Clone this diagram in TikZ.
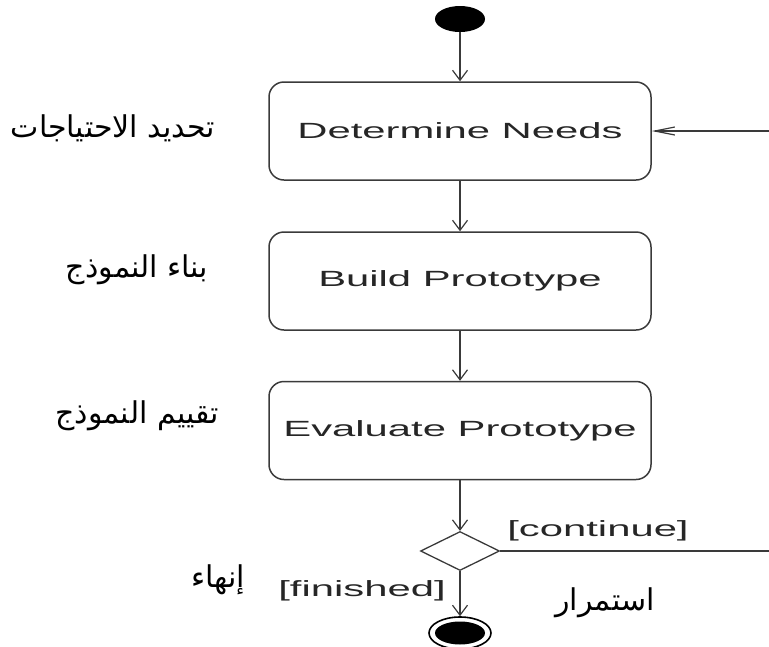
\documentclass[tikz,border=0pt]{standalone}
\usepackage{graphicx}
\usepackage{fontspec}
\setmainfont{Liberation Sans}
\newfontfamily\arabicfont[Script=Arabic]{DejaVu Sans}
\TeXXeTstate=1
\usetikzlibrary{shapes.geometric,arrows.meta}
\definecolor{linec}{HTML}{3A3A3A}
\definecolor{txtc}{HTML}{262626}
\newcommand\stretchtxt[1]{\scalebox{1.9}[1]{#1}}
\tikzset{
  act/.style={draw=linec, line width=1.5pt, rounded corners=15pt, minimum width=382pt,
    minimum height=98pt, inner sep=0pt, text=txtc, font=\fontsize{22}{26}\selectfont},
  startdot/.style={ellipse, fill=black, minimum width=50pt, minimum height=26pt, inner sep=0pt},
  decision/.style={diamond, draw=linec, line width=1.3pt, minimum width=79pt, minimum height=39pt, inner sep=0pt, aspect=2},
  endring/.style={ellipse, draw=black, line width=1.6pt, minimum width=62pt, minimum height=32pt, inner sep=0pt},
  enddot/.style={ellipse, fill=black, minimum width=50pt, minimum height=23pt, inner sep=0pt},
  vflow/.style={draw=linec, line width=1.5pt, -{Straight Barb[length=10pt, width=15pt, line width=1.2pt]}},
  hflow/.style={draw=linec, line width=1.3pt, -{Straight Barb[length=20pt, width=8pt, line width=1.2pt]}},
  plainline/.style={draw=linec, line width=1.3pt},
  guard/.style={text=txtc, inner sep=0pt, font=\fontsize{22}{25}\selectfont},
  arlabel/.style={text=black, inner sep=0pt, font=\arabicfont\fontsize{30}{34}\selectfont},
}
\begin{document}
\begin{tikzpicture}[x=1pt, y=-1pt]
  \useasboundingbox (0,0) rectangle (769,646);
  \node[startdot] (start) at (460,19) {};
  \node[act] (needs) at (460,131) {\stretchtxt{Determine Needs}};
  \node[act] (build) at (460,281) {\stretchtxt{Build Prototype}};
  \node[act] (eval) at (460,430.5) {\stretchtxt{Evaluate Prototype}};
  \node[decision] (dec) at (460,551) {};
  \node[endring] (finish) at (460,633) {};
  \node[enddot] (finishdot) at (460,633) {};
  \coordinate (rin) at (769,131);
  \coordinate (rout) at (769,551);

  \draw[vflow] (start) -- (needs);
  \draw[vflow] (needs) -- (build);
  \draw[vflow] (build) -- (eval);
  \draw[vflow] (eval) -- (dec);
  \draw[vflow] (dec) -- (finish);
  \draw[hflow] (rin) -- (needs);
  \draw[plainline] (dec) -- (rout);

  \node[guard] (cont) at (598,531) {\stretchtxt{[continue]}};
  \node[guard] (fin) at (362,591) {\stretchtxt{[finished]}};

  \node[arlabel] (a1) at (113,128) {\beginR تحديد الاحتياجات\endR};
  \node[arlabel] (a2) at (137,270) {\beginR بناء النموذج\endR};
  \node[arlabel] (a3) at (137,416) {\beginR تقييم النموذج\endR};
  \node[arlabel] (a4) at (218,580) {\beginR إنهاء\endR};
  \node[arlabel] (a5) at (605,603) {\beginR استمرار\endR};
\end{tikzpicture}
\end{document}
